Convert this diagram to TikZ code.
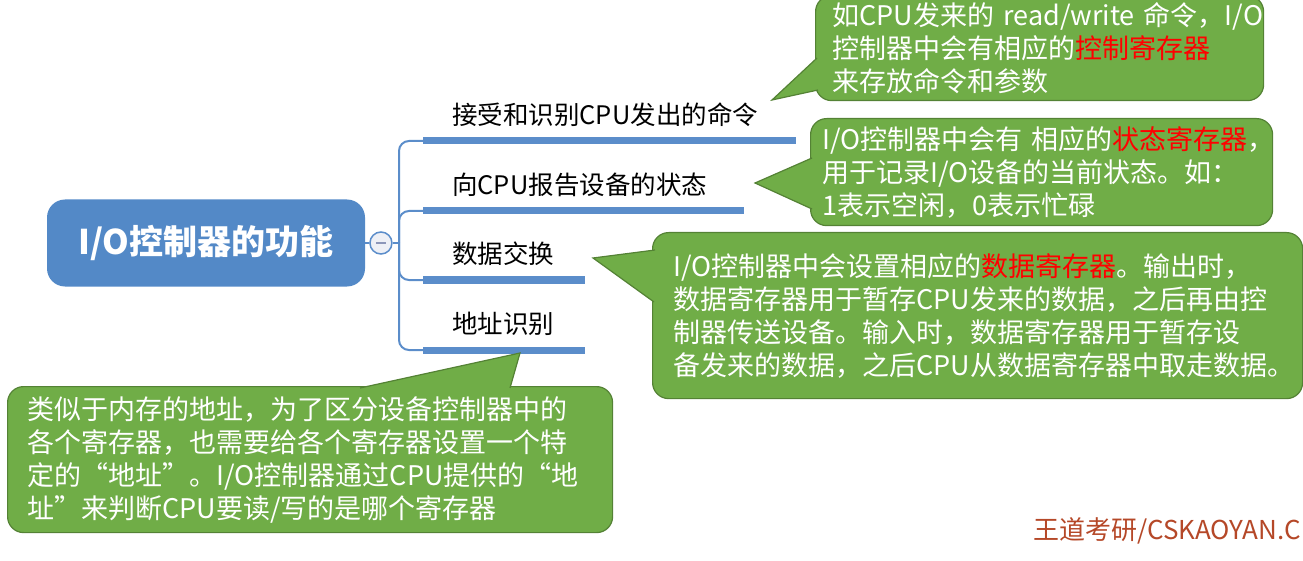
\documentclass[tikz,border=0pt]{standalone}
\usepackage{fontspec}
\setmainfont{Noto Sans CJK SC}
\usetikzlibrary{positioning,calc}
\definecolor{rootblue}{RGB}{83,137,199}
\definecolor{linkblue}{RGB}{91,141,202}
\definecolor{foldfill}{RGB}{238,240,246}
\definecolor{foldmark}{RGB}{140,150,185}
\definecolor{notegreen}{RGB}{112,173,71}
\definecolor{noteedge}{RGB}{84,130,53}
\definecolor{hired}{RGB}{255,0,0}
\definecolor{markred}{RGB}{181,72,40}
\newcommand{\hi}[1]{\textcolor{hired}{#1}}

\begin{document}
\begin{tikzpicture}[x=1pt,y=-1pt,
  root/.style={rectangle,rounded corners=18pt,fill=rootblue,text=white,
    font=\fontsize{34}{40}\selectfont\bfseries,minimum width=318pt,minimum height=87pt},
  fold/.style={circle,draw=linkblue,line width=1.5pt,fill=foldfill,minimum size=22pt,inner sep=0pt},
  branch/.style={anchor=south west,align=left,inner xsep=29pt,inner ysep=13.5pt,
    text height=22pt,text depth=3pt,font=\fontsize{25.5}{30}\selectfont},
  bar/.style={linkblue,line width=7pt},
  link/.style={linkblue,line width=2pt,rounded corners=10pt},
  note/.style={rectangle,rounded corners=16pt,draw=noteedge,line width=1.2pt,fill=notegreen,
    text=white,anchor=north west,align=left,inner ysep=0pt,font=\fontsize{27}{33}\selectfont},
  tipfill/.style={fill=notegreen},
  tipedge/.style={draw=noteedge,line width=1.2pt},
  wmark/.style={anchor=base west,text=markred,font=\fontsize{26}{30}\selectfont,inner sep=0pt}
]
\useasboundingbox (0,0) rectangle (1303,561);

% root and fold button
\node[root] (root) at (206,243) {I/O控制器的功能};
\node[fold] (fold) [right=4pt of root] {};
\draw[foldmark,line width=2pt] ($(fold.center)+(-5,0)$) -- ($(fold.center)+(5,0)$);
\coordinate (hub) at (399,243);

% branches
\node[branch,text width=315pt] (b_1) at (423,141) {接受和识别CPU发出的命令};
\node[branch,text width=263pt] (b_2) at (423,211) {向CPU报告设备的状态};
\node[branch,text width=104pt] (b_3) at (423,280) {数据交换};
\node[branch,text width=104pt] (b_4) at (423,350) {地址识别};

\draw[linkblue,line width=2pt] (root.east) -- (fold.west) (fold.east) -- (hub);
\foreach \b in {b_1,b_2,b_3,b_4} {
  \draw[link] (hub) |- (\b.south west);
  \draw[bar] (\b.south west) -- (\b.south east);
}

% notes
\node[note,inner xsep=17pt,text width=414pt,minimum height=105pt] (c_1) at (815,-5)
  {如CPU发来的~read/write~命令，I/O\\控制器中会有相应的\hi{控制寄存器}\\来存放命令和参数};
\node[note,inner xsep=12pt,text width=438pt,minimum height=107pt] (c_2) at (810,118)
  {I/O控制器中会有~相应的\hi{状态寄存器}，\\用于记录I/O设备的当前状态。如：\\1表示空闲，0表示忙碌};
\node[note,inner xsep=21pt,text width=608pt,minimum height=166pt] (c_3) at (652,232)
  {I/O控制器中会设置相应的\hi{数据寄存器}。输出时，\\数据寄存器用于暂存CPU发来的数据，之后再由控\\制器传送设备。输入时，数据寄存器用于暂存设\\备发来的数据，之后CPU从数据寄存器中取走数据。};
\node[note,inner xsep=20pt,text width=565pt,minimum height=146pt] (c_4) at (7,386)
  {类似于内存的地址，为了区分设备控制器中的\\各个寄存器，也需要给各个寄存器设置一个特\\定的“地址”。I/O控制器通过CPU提供的“地\\址”来判断CPU要读/写的是哪个寄存器};

% pointers
\coordinate (t_1) at (772,100);
\coordinate (t_2) at (755,183);
\coordinate (t_3) at (593,258);
\coordinate (t_4) at (520,353);
\fill[tipfill] ($(c_1.north west)+(2,63)$) -- (t_1) -- ($(c_1.north west)+(3,95)$) -- cycle;
\draw[tipedge] ($(c_1.north west)+(2,63)$) -- (t_1) -- ($(c_1.north west)+(3,95)$);
\fill[tipfill] ($(c_2.north west)+(2,40)$) -- (t_2) -- ($(c_2.north west)+(2,91)$) -- cycle;
\draw[tipedge] ($(c_2.north west)+(2,40)$) -- (t_2) -- ($(c_2.north west)+(2,91)$);
\fill[tipfill] ($(c_3.north west)+(3,18)$) -- (t_3) -- ($(c_3.north west)+(2,70)$) -- cycle;
\draw[tipedge] ($(c_3.north west)+(3,18)$) -- (t_3) -- ($(c_3.north west)+(2,70)$);
\fill[tipfill] ($(c_4.north west)+(353,2)$) -- (t_4) -- ($(c_4.north west)+(503,2)$) -- cycle;
\draw[tipedge] ($(c_4.north west)+(353,2)$) -- (t_4) -- ($(c_4.north west)+(503,2)$);

\node[wmark] (wm) at (1033,539) {王道考研/CSKAOYAN.C};
\end{tikzpicture}
\end{document}
